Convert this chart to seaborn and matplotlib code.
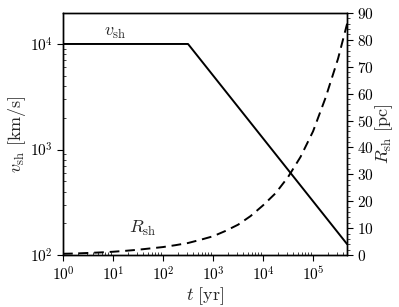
import seaborn as sns
import matplotlib.pyplot as plt
from matplotlib.ticker import MultipleLocator, LogLocator
import pandas as pd

sns.set_style("ticks")
plt.rcParams['font.family'] = 'serif'
plt.rcParams['font.serif'] = ['cmr10', 'DejaVu Serif']
plt.rcParams['mathtext.fontset'] = 'cm'
plt.rcParams['axes.formatter.use_mathtext'] = True

# shock velocity (km/s): free expansion then Sedov-Taylor
t_v = [1, 316, 4.8e5]
v_sh = [1e4, 1e4, 127]

# shock radius (pc), every quarter decade
t_r = [1, 1.78, 3.16, 5.62, 10, 17.8, 31.6, 56.2, 100, 178, 316, 562,
       1e3, 1.78e3, 3.16e3, 5.62e3, 1e4, 1.78e4, 3.16e4, 5.62e4,
       1e5, 1.78e5, 3.16e5, 4.8e5]
r_sh = [0.5, 0.6, 0.8, 1.0, 1.25, 1.6, 2.0, 2.5, 3.0, 3.7, 4.5, 5.7,
        7.0, 9.0, 11.3, 14.5, 18.5, 23.0, 29.0, 36.5,
        46.0, 58.5, 73.0, 86.0]


def main():
    fig = plt.figure(figsize=(3.99, 3.07), dpi=100)
    ax = fig.add_axes([0.158, 0.169, 0.712, 0.789])
    ax2 = ax.twinx()

    vdf = pd.DataFrame({"t": t_v, "v": v_sh})
    rdf = pd.DataFrame({"t": t_r, "R": r_sh})

    sns.lineplot(data=vdf, x="t", y="v", ax=ax, color="k", lw=1.4, sort=False)
    sns.lineplot(data=rdf, x="t", y="R", ax=ax2, color="k", lw=1.4, sort=False,
                 dashes=False, linestyle=(0, (5, 3)))

    ax.set_xscale("log")
    ax.set_yscale("log")
    ax.set_xlim(1, 4.8e5)
    ax.set_ylim(1e2, 1.97e4)
    ax2.set_ylim(0, 90)
    ax.xaxis.set_major_locator(LogLocator(base=10, numticks=10))
    ax.xaxis.set_minor_locator(LogLocator(base=10, subs=range(2, 10), numticks=20))
    ax2.yaxis.set_major_locator(MultipleLocator(10))
    ax2.yaxis.set_minor_locator(MultipleLocator(2))

    for s in list(ax.spines.values()) + list(ax2.spines.values()):
        s.set_linewidth(1.0)
        s.set_color("k")

    ax.tick_params(which="major", direction="out", length=4, width=0.8,
                   labelsize=11, colors="k", top=False, right=False)
    ax.tick_params(which="minor", direction="in", length=2.5, width=0.6,
                   top=False, right=False)
    ax2.tick_params(which="major", direction="out", length=4, width=0.8,
                    labelsize=11, colors="k", pad=3)
    ax2.tick_params(which="minor", direction="out", length=2.5, width=0.6)

    ax.set_xlabel(r"$t\ [{\rm yr}]$", fontsize=13, labelpad=1)
    ax.set_ylabel(r"$v_{\rm sh}\ [{\rm km/s}]$", fontsize=13, labelpad=1)
    ax2.set_ylabel(r"$R_{\rm sh}\ [{\rm pc}]$", fontsize=13, labelpad=0)

    ax.text(11, 1.27e4, r"$v_{\rm sh}$", fontsize=13, ha="center", va="center")
    ax2.text(40, 10, r"$R_{\rm sh}$", fontsize=13, ha="center", va="center")

    fig.savefig("out.png", dpi=100)


if __name__ == "__main__":
    main()
